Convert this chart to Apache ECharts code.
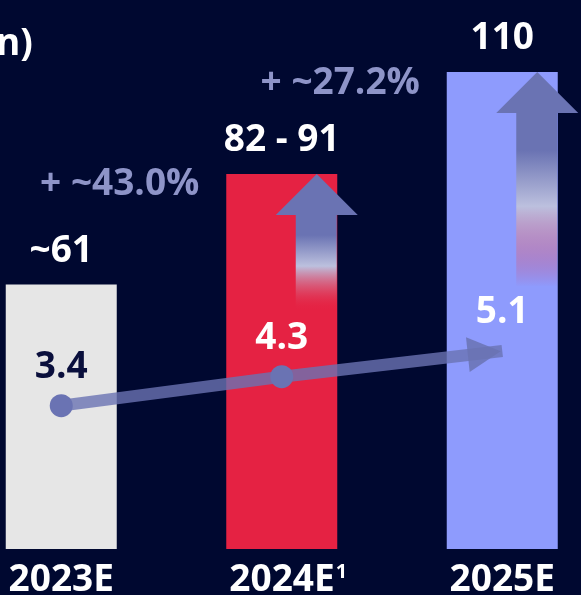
<!DOCTYPE html>
<html>
<head>
<meta charset="utf-8">
<script src="https://cdn.jsdelivr.net/npm/echarts@6/dist/echarts.min.js"></script>
<style>
html,body{margin:0;padding:0;background:#000830;}
#c{width:581px;height:595px;}
</style>
</head>
<body>
<div id="c"></div>
<script>
const categories = ['2023E', '2024E', '2025E'];
const superscripts = ['', '1', ''];
const marketSize = [61, 86.5, 110];
const marketLabels = ['~61', '82 - 91', '110'];
const unitValues = [3.4, 4.3, 5.1];
const unitLabels = ['3.4', '4.3', '5.1'];
const arrowBase = [null, 55, 60.5];
const growthLabels = [null, '+ ~43.0%', '+ ~27.2%'];
const titleText = 'n)';

const FONT = '"Open Sans", "Noto Sans", sans-serif';
const barColors = ['#e6e6e6', '#e52243', '#8e9bfd'];
const unitLabelColors = ['#0a0f3c', '#ffffff', '#ffffff'];
const arrowColor = '#6a73b3';

const chart = echarts.init(document.getElementById('c'), null, {renderer: 'canvas'});

const arrowData = [];
arrowBase.forEach((b, i) => { if (b != null) arrowData.push([i, marketSize[i], b]); });

const shaftGradient = () => new echarts.graphic.LinearGradient(0, 0, 0, 1, [
  {offset: 0, color: arrowColor},
  {offset: 0.22, color: arrowColor},
  {offset: 0.54, color: '#bcc0de'},
  {offset: 0.78, color: 'rgba(210,115,145,0.5)'},
  {offset: 1, color: 'rgba(229,36,67,0)'}
]);

const option = {
  backgroundColor: '#000830',
  animation: false,
  graphic: [{
    type: 'text',
    left: -4,
    top: 26,
    style: {text: titleText, fill: '#ffffff', font: 'bold 37px ' + FONT}
  }],
  grid: {left: -49, right: -31.5, top: 72, bottom: 46, containLabel: false, outerBoundsMode: 'none'},
  xAxis: {
    type: 'category',
    data: categories,
    axisLine: {show: false},
    axisTick: {show: false},
    splitLine: {show: false},
    axisLabel: {
      margin: 13,
      interval: 0,
      formatter: (v, i) => superscripts[i] ? `{pad|}{a|${v}}{sup|${superscripts[i]}}` : `{a|${v}}`,
      rich: {
        a: {fontSize: 37, fontWeight: 'bold', color: '#ffffff', fontFamily: FONT},
        sup: {fontSize: 20, fontWeight: 'bold', color: '#ffffff', fontFamily: FONT, verticalAlign: 'top', padding: [0, 0, 12, 1]},
        pad: {width: 13}
      }
    }
  },
  yAxis: [
    {type: 'value', min: 0, max: 110, show: false, splitLine: {show: false}},
    {type: 'value', min: -1.05, max: 13.76, show: false, splitLine: {show: false}}
  ],
  series: [
    {
      type: 'bar',
      barWidth: 111,
      z: 2,
      data: marketSize.map((v, i) => ({value: v, itemStyle: {color: barColors[i]}})),
      label: {
        show: true,
        position: 'top',
        distance: 15,
        formatter: p => marketLabels[p.dataIndex],
        color: '#ffffff',
        fontSize: 37,
        fontWeight: 'bold',
        fontFamily: FONT
      }
    },
    {
      type: 'custom',
      z: 3,
      data: arrowData,
      renderItem: function (params, api) {
        const idx = api.value(0);
        const top = api.coord([idx, api.value(1)]);
        const base = api.coord([idx, api.value(2)]);
        const tipX = top[0] + 35;
        const tipY = top[1];
        const headH = 41, headHalf = 41;
        return {
          type: 'group',
          children: [
            {
              type: 'rect',
              shape: {x: tipX - 21, y: tipY + headH - 1, width: 41, height: base[1] - tipY - headH + 1},
              style: {fill: shaftGradient()}
            },
            {
              type: 'polygon',
              shape: {points: [[tipX, tipY], [tipX + headHalf, tipY + headH], [tipX - headHalf, tipY + headH]]},
              style: {fill: arrowColor}
            },
            {
              type: 'text',
              style: {
                text: growthLabels[idx],
                x: tipX - 197, y: tipY + 11,
                align: 'center', verticalAlign: 'middle',
                fill: '#8e94c8',
                font: 'bold 37px ' + FONT
              }
            }
          ]
        };
      }
    },
    {
      type: 'line',
      yAxisIndex: 1,
      z: 4,
      lineStyle: {width: 12, color: 'rgba(106,115,179,0.8)'},
      data: unitValues.map((v, i) => i < unitValues.length - 1
        ? {value: v, symbol: 'circle', symbolSize: 23, itemStyle: {color: arrowColor, opacity: 1}}
        : {value: v, symbol: 'triangle', symbolSize: [35, 33], symbolRotate: -84, symbolOffset: [-18, 2], itemStyle: {color: 'rgba(106,115,179,0.85)'}}),
      label: {show: false}
    },
    {
      type: 'scatter',
      yAxisIndex: 1,
      z: 5,
      symbolSize: 1,
      itemStyle: {color: 'rgba(0,0,0,0)', opacity: 1},
      data: unitValues.map((v, i) => ({value: v, label: {color: unitLabelColors[i], opacity: 1}})),
      label: {
        show: true,
        position: 'inside',
        offset: [0, -38],
        opacity: 1,
        formatter: p => unitLabels[p.dataIndex],
        fontSize: 37,
        fontWeight: 'bold',
        fontFamily: FONT
      }
    }
  ]
};
chart.setOption(option);
</script>
</body>
</html>
